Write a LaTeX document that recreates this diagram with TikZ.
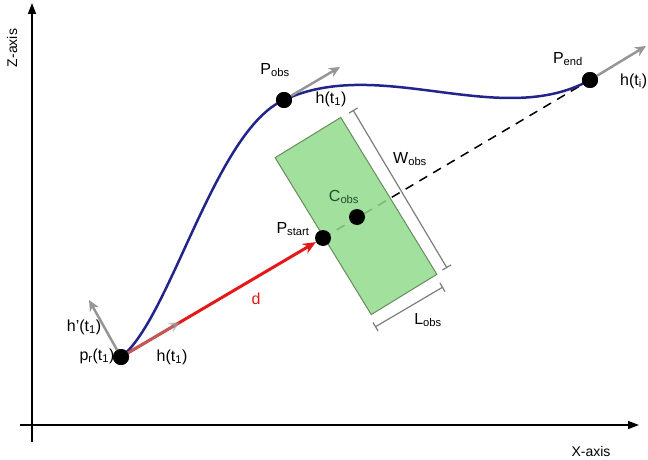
\documentclass[tikz,border=0pt]{standalone}
\usepackage{fontspec}
\setmainfont{Liberation Sans}
\usetikzlibrary{arrows.meta}
\definecolor{curveblue}{RGB}{35,35,140}
\definecolor{dred}{RGB}{228,24,24}
\definecolor{agray}{RGB}{150,150,150}
\definecolor{dimgray}{RGB}{125,125,125}
\definecolor{obsfill}{RGB}{145,218,140}
\definecolor{obsedge}{RGB}{105,140,95}
\definecolor{cobsgreen}{RGB}{30,80,40}
\begin{document}
\begin{tikzpicture}[x=1pt,y=-1pt,
  lbl/.style={inner sep=0pt, font=\fontsize{16}{18}\selectfont},
  axlbl/.style={inner sep=0pt, font=\fontsize{14}{16}\selectfont},
  dot/.style={circle, fill=black, minimum size=16pt, inner sep=0pt},
  axisline/.style={line width=1.5pt, -{Triangle[length=11pt,width=8pt]}},
  grayarrow/.style={draw=agray, line width=2.5pt, -{Stealth[length=11pt,width=10pt]}},
  obsbox/.style={draw=obsedge, fill=obsfill, fill opacity=0.85, line width=1pt, inner sep=0pt},
  dimline/.style={draw=dimgray, line width=1.2pt, {Bar[width=10pt]}-{Bar[width=10pt]}},
  pathcurve/.style={draw=curveblue, line width=2.5pt},
  dline/.style={draw=dred, line width=3pt, -{Stealth[length=13pt,width=11pt]}},
  dashline/.style={draw=black, line width=1.5pt, dash pattern=on 9pt off 7pt}
]
\useasboundingbox (0,0) rectangle (648,460);

% axes
\coordinate (zb) at (32,442);
\coordinate (zt) at (32,3);
\coordinate (xl) at (20,425);
\coordinate (xr) at (639,425);
\draw[axisline] (zb) -- (zt);
\draw[axisline] (xl) -- (xr);
\node[axlbl, rotate=90] (zlab) at (12,48) {Z-axis};
\node[axlbl] (xlab) at (591,451) {X-axis};

% points
\node[dot] (pr) at (121,357) {};
\node[dot] (pobs) at (284,100) {};
\node[dot] (pend) at (590,80) {};

% dashed line from start to end (under obstacle)
\coordinate (ps) at (323,238);
\draw[dashline] (ps) -- (pend.center);

% obstacle
\node[obsbox, rotate=31.5, minimum width=77pt, minimum height=184pt] (obs) at (356,216) {};

% dimension lines
\coordinate (w1) at (353,110);
\coordinate (w2) at (447,268);
\coordinate (l1) at (375,327);
\coordinate (l2) at (443,287);
\draw[dimline] (w1) -- (w2);
\draw[dimline] (l1) -- (l2);

% curve
\draw[pathcurve] (pr.center) .. controls (170,320) and (215,130) .. (pobs.center)
  .. controls (380,55) and (500,130) .. (pend.center);

% red arrow d
\node[dot] (pstart) at (ps) {};
\node[dot] (cobs) at (357,217) {};
\draw[dline] (pr.center) -- (pstart.210);

% gray tangent arrows
\coordinate (hp) at (89,300);
\coordinate (h1) at (180,322);
\coordinate (h2) at (340,67);
\coordinate (h3) at (646,46);
\draw[grayarrow] (pr.center) -- (hp);
\draw[grayarrow, draw opacity=0.55, fill opacity=0.9] (pr.center) -- (h1);
\draw[grayarrow] (pobs) -- (h2);
\draw[grayarrow] (pend) -- (h3);
\node[dot] at (pr) {};
\node[dot] at (pobs) {};
\node[dot] at (pend) {};

% labels
\node[lbl] (lhp) at (84,327) {h’(t\textsubscript{1})};
\node[lbl] (lpr) at (97,356) {p\textsubscript{r}(t\textsubscript{1})};
\node[lbl] (lh1) at (172,357) {h(t\textsubscript{1})};
\node[lbl, text=dred] (ld) at (256,299) {d};
\node[lbl] (lpobs) at (275,70) {P\textsubscript{obs}};
\node[lbl] (lh2) at (331,99) {h(t\textsubscript{1})};
\node[lbl] (lpend) at (568,59) {P\textsubscript{end}};
\node[lbl, anchor=west] (lh3) at (620,81) {h(t\textsubscript{i})};
\node[lbl] (lpstart) at (293,229) {P\textsubscript{start}};
\node[lbl, text=cobsgreen] (lcobs) at (344,197) {C\textsubscript{obs}};
\node[lbl] (lwobs) at (410,159) {W\textsubscript{obs}};
\node[lbl] (llobs) at (428,320) {L\textsubscript{obs}};
\end{tikzpicture}
\end{document}
